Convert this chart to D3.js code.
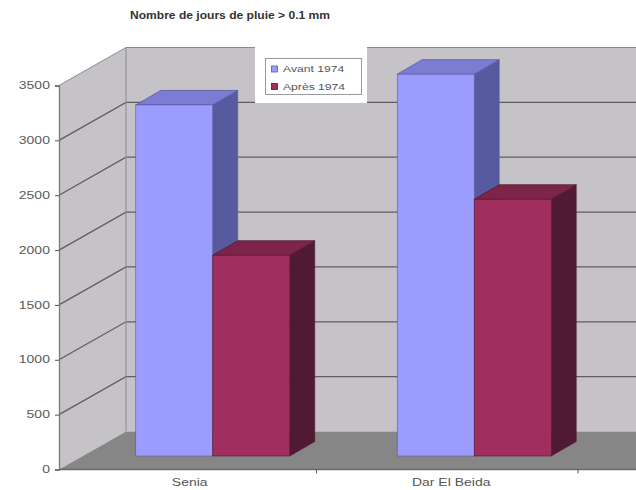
<!DOCTYPE html>
<html>
<head>
<meta charset="utf-8">
<script src="https://cdn.jsdelivr.net/npm/d3@7/dist/d3.min.js"></script>
<style>
  html, body { margin: 0; padding: 0; background: #fff; }
  svg { display: block; font-family: "Liberation Sans", Arial, sans-serif; }
  .wide-end { transform-box: fill-box; transform-origin: right center; transform: scaleX(1.4); }
  .wide-mid { transform-box: fill-box; transform-origin: center center; transform: scaleX(1.4); }
  .wide-start { transform-box: fill-box; transform-origin: left center; transform: scaleX(1.35); }
</style>
</head>
<body>
<script>
// Rainy days (> 0.1 mm) before and after 1974 at two stations
const title = "Nombre de jours de pluie > 0.1 mm";
const categories = ["Senia", "Dar El Beida"];
const seriesNames = ["Avant 1974", "Après 1974"];
const avant = [3200, 3480];
const apres = [1830, 2340];
const yTicks = [0, 500, 1000, 1500, 2000, 2500, 3000, 3500];

const W = 636, H = 490;
const svg = d3.select("body").append("svg").attr("width", W).attr("height", H);

// Oblique 3D projection: depth of the plot box and position of the bar row inside it
const DX = 67, DY = 38;          // full depth of the box
const BX = 23, BY = 13.5;        // front face of the bars
const PX = 25, PY = 14.5;        // depth of each bar

const y = d3.scaleLinear().domain([0, 3500]).range([469.5, 85.5]);
const x = d3.scaleBand().domain(categories).range([59, 582]);
const groupW = 154;
const xs = d3.scaleBand().domain(seriesNames)
  .range([(x.bandwidth() - groupW) / 2, (x.bandwidth() + groupW) / 2]);

const colors = {
  "Avant 1974": { front: "#9c9cff", top: "#7c7dd2", side: "#575a9e" },
  "Après 1974": { front: "#a02f5f", top: "#7d2549", side: "#511a33" }
};

// The plot box runs on past the right edge of the page
const x0 = x.range()[0], xEnd = 700;
const yTop = y(3500), yBase = y(0);
const pts = a => a.map(p => p.join(",")).join(" ");

// Walls and floor
const wallFill = "#c6c3c8";
svg.append("polygon").attr("points", pts([[x0, yTop], [x0 + DX, yTop - DY], [x0 + DX, yBase - DY], [x0, yBase]]))
  .attr("fill", wallFill);
svg.append("rect").attr("x", x0 + DX).attr("y", yTop - DY).attr("width", xEnd - x0).attr("height", yBase - yTop)
  .attr("fill", wallFill);
svg.append("polygon").attr("points", pts([[x0, yBase], [xEnd, yBase], [xEnd + DX, yBase - DY], [x0 + DX, yBase - DY]]))
  .attr("fill", "#868686");

// Gridlines across the side wall and back wall
const grid = svg.append("g").attr("stroke", "#5e5e5e").attr("stroke-width", 1.3).attr("fill", "none");
yTicks.filter(t => t > 0 && t < 3500).forEach(t => {
  grid.append("polyline").attr("points", pts([[x0, y(t)], [x0 + DX, y(t) - DY], [xEnd + DX, y(t) - DY]]));
});
// Wall edges
const edges = svg.append("g").attr("stroke", "#8a8a8a").attr("stroke-width", 1).attr("fill", "none");
edges.append("line").attr("x1", x0 + DX).attr("x2", x0 + DX).attr("y1", yTop - DY).attr("y2", yBase - DY);
edges.append("polyline").attr("points", pts([[x0, yTop], [x0 + DX, yTop - DY], [xEnd + DX, yTop - DY]]));

// Bars
const rows = categories.map((c, i) => [
  { cat: c, s: seriesNames[0], v: avant[i] },
  { cat: c, s: seriesNames[1], v: apres[i] }
]).flat();

const bars = svg.append("g").selectAll("g").data(rows).join("g");
bars.each(function (d) {
  const g = d3.select(this);
  const L = x(d.cat) + xs(d.s) + BX;
  const R = L + xs.bandwidth();
  const T = y(d.v) - BY;
  const B = yBase - BY;
  const c = colors[d.s];
  g.append("polygon").attr("points", pts([[R, T], [R + PX, T - PY], [R + PX, B - PY], [R, B]]))
    .attr("fill", c.side).attr("stroke", c.side).attr("stroke-width", 0.6);
  g.append("polygon").attr("points", pts([[L, T], [R, T], [R + PX, T - PY], [L + PX, T - PY]]))
    .attr("fill", c.top).attr("stroke", c.side).attr("stroke-width", 0.8);
  g.append("rect").attr("x", L).attr("y", T).attr("width", R - L).attr("height", B - T)
    .attr("fill", c.front).attr("stroke", c.side).attr("stroke-width", 0.6);
});

// Value axis
const yAxis = svg.append("g").attr("transform", `translate(${x0},0)`)
  .call(d3.axisLeft(y).tickValues(yTicks).tickSize(4).tickPadding(5).tickFormat(d3.format("d")));
yAxis.select(".domain").attr("stroke", "#7a7a7a").attr("stroke-width", 1.3);
yAxis.selectAll(".tick line").attr("stroke", "#555");
yAxis.selectAll(".tick text").attr("font-size", 10).attr("fill", "#5a5a5a")
  .attr("font-family", "Liberation Sans, Arial, sans-serif").attr("class", "wide-end");

// Category axis
const xAxis = svg.append("g").attr("transform", `translate(0,${yBase})`)
  .call(d3.axisBottom(x).tickSize(0).tickPadding(9));
xAxis.select(".domain").attr("d", `M${x0},0H${xEnd}`).attr("stroke", "#6a6a6a").attr("stroke-width", 1.3);
xAxis.selectAll(".tick text").attr("font-size", 10).attr("fill", "#555")
  .attr("font-family", "Liberation Sans, Arial, sans-serif").attr("class", "wide-mid");
xAxis.selectAll(".sep").data(categories).join("line").attr("class", "sep")
  .attr("x1", d => x(d) + x.step() - 4).attr("x2", d => x(d) + x.step() - 4)
  .attr("y1", 0).attr("y2", 4).attr("stroke", "#555");

// Title
svg.append("text").attr("x", 230).attr("y", 19).attr("text-anchor", "middle")
  .attr("font-size", 10.5).attr("font-weight", "bold").attr("fill", "#333")
  .attr("class", "wide-mid").style("transform", "scaleX(1.15)").text(title);

// Legend
const lg = svg.append("g");
lg.append("rect").attr("x", 255).attr("y", 44).attr("width", 112).attr("height", 59).attr("fill", "#fff");
lg.append("rect").attr("x", 265.5).attr("y", 58.5).attr("width", 96).attr("height", 36)
  .attr("fill", "#fff").attr("stroke", "#9a9a9a").attr("stroke-width", 1);
seriesNames.forEach((s, i) => {
  const cy = 69 + i * 17.5;
  lg.append("rect").attr("x", 271.5).attr("y", cy - 3).attr("width", 6).attr("height", 6)
    .attr("fill", colors[s].front).attr("stroke", colors[s].side).attr("stroke-width", 0.8);
  lg.append("text").attr("x", 283).attr("y", cy + 3.3).attr("font-size", 9).attr("fill", "#555")
    .attr("class", "wide-start").text(s);
});
</script>
</body>
</html>
